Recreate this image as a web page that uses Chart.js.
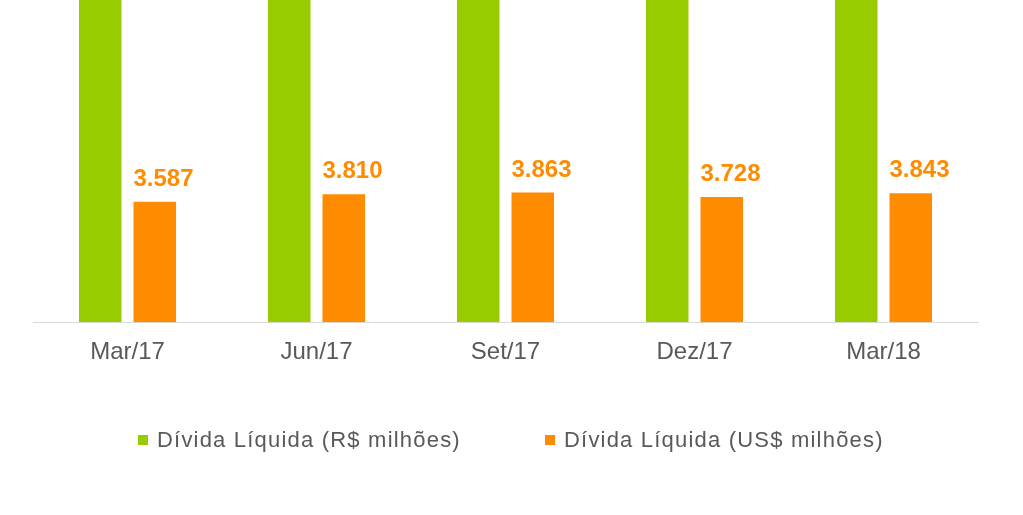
<!DOCTYPE html>
<html>
<head>
<meta charset="utf-8">
<script src="https://cdn.jsdelivr.net/npm/chart.js@4"></script>
<style>
  body { margin: 0; background: #fff; }
</style>
</head>
<body>
<canvas id="grafico" width="1023" height="515"></canvas>
<script>
const trimestres = ["Mar/17", "Jun/17", "Set/17", "Dez/17", "Mar/18"];
// R$ bars run past the top of the picture, values estimated
const dividaReais = [11370, 12600, 12240, 12340, 12770];
const dividaDolar = [3587, 3810, 3863, 3728, 3843];
const nomesSeries = ["Dívida Líquida (R$ milhões)", "Dívida Líquida (US$ milhões)"];

const verde = "#99cc00";
const laranja = "#ff8c00";
const cinza = "#595959";
const fonte = "'Liberation Sans', Arial, sans-serif";

function formatar(v) {
  return v.toLocaleString("pt-BR");
}

const rotulos = {
  id: "rotulos",
  afterDatasetsDraw(chart) {
    const ctx = chart.ctx;
    const meta = chart.getDatasetMeta(1);
    ctx.save();
    ctx.font = "bold 24px " + fonte;
    ctx.fillStyle = laranja;
    ctx.textAlign = "left";
    ctx.textBaseline = "alphabetic";
    meta.data.forEach((bar, i) => {
      ctx.fillText(formatar(dividaDolar[i]), bar.x - bar.width / 2, bar.y - 16);
    });
    ctx.restore();
  }
};

const legenda = {
  id: "legenda",
  afterDraw(chart) {
    const ctx = chart.ctx;
    const itens = [
      { x: 138, cor: verde, texto: nomesSeries[0] },
      { x: 545, cor: laranja, texto: nomesSeries[1] }
    ];
    ctx.save();
    ctx.font = "22px " + fonte;
    ctx.letterSpacing = "1.2px";
    ctx.textBaseline = "middle";
    ctx.textAlign = "left";
    itens.forEach(it => {
      ctx.fillStyle = it.cor;
      ctx.fillRect(it.x, 435, 10, 10);
      ctx.fillStyle = cinza;
      ctx.fillText(it.texto, it.x + 19, 441);
    });
    ctx.restore();
  }
};

new Chart(document.getElementById("grafico"), {
  type: "bar",
  data: {
    labels: trimestres,
    datasets: [
      { label: nomesSeries[0], data: dividaReais, backgroundColor: verde },
      { label: nomesSeries[1], data: dividaDolar, backgroundColor: laranja }
    ]
  },
  options: {
    responsive: false,
    animation: false,
    categoryPercentage: 0.577,
    barPercentage: 0.78,
    layout: { padding: { left: 33, right: 45, top: 0, bottom: 132 } },
    plugins: {
      legend: { display: false },
      tooltip: { enabled: false }
    },
    scales: {
      x: {
        grid: { display: false, drawTicks: false },
        border: { display: true, color: "#d9d9d9", width: 1 },
        ticks: { color: cinza, font: { size: 24, family: fonte }, padding: 16 }
      },
      y: {
        display: false,
        min: 0,
        max: 9600
      }
    }
  },
  plugins: [rotulos, legenda]
});
</script>
</body>
</html>
